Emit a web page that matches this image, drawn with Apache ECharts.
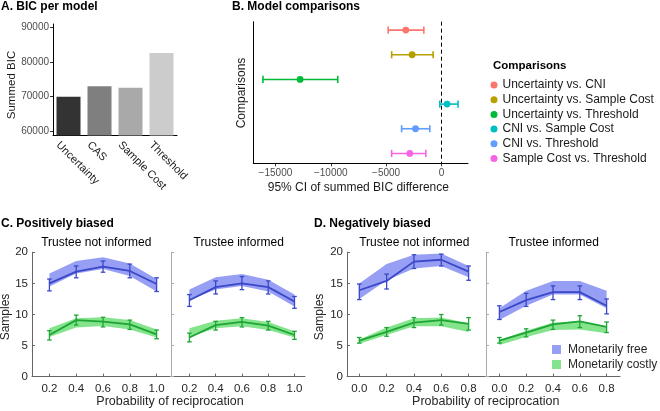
<!DOCTYPE html>
<html><head><meta charset="utf-8">
<script src="https://cdn.jsdelivr.net/npm/echarts@6/dist/echarts.min.js"></script>
<style>html,body{margin:0;padding:0;background:#fff}#c{width:660px;height:411px}</style>
</head><body><div id="c"></div>
<script>
// ---------- Panel A data ----------
const aModels = ['Uncertainty', 'CAS', 'Sample Cost', 'Threshold'];
const aBIC = [69900, 73000, 72500, 82600];
const aTicks = [60000, 70000, 80000, 90000];
const aColors = ['#333333', '#7F7F7F', '#A9A9A9', '#CCCCCC'];

// ---------- Panel B data ----------
const bComparisons = ['Uncertainty vs. CNI', 'Uncertainty vs. Sample Cost', 'Uncertainty vs. Threshold',
  'CNI vs. Sample Cost', 'CNI vs. Threshold', 'Sample Cost vs. Threshold'];
const bMean = [-3220, -2650, -12770, 510, -2340, -2860];
const bLow = [-4810, -4500, -16130, -150, -3600, -4500];
const bHigh = [-1590, -750, -9370, 1500, -1050, -1410];
const bTicks = [-15000, -10000, -5000, 0];
const bColors = ['#F8766D', '#B79F00', '#00BA38', '#00BFC4', '#619CFF', '#F564E3'];

// ---------- Panels C / D data ----------
const probPos = [0.2, 0.4, 0.6, 0.8, 1.0];
const probNeg = [0.0, 0.2, 0.4, 0.6, 0.8];

// C: positively biased, trustee not informed
const cNiFreeMean = [15.0, 16.9, 17.7, 17.0, 14.9];
const cNiFreeErrLo = [13.8, 15.9, 16.8, 15.9, 13.7];
const cNiFreeErrHi = [15.7, 17.8, 18.6, 18.1, 15.9];
const cNiFreeBandLo = [14.5, 16.6, 17.3, 16.2, 13.7];
const cNiFreeBandHi = [16.6, 18.6, 19.2, 18.2, 15.7];
const cNiCostMean = [6.7, 9.1, 8.85, 8.4, 6.8];
const cNiCostErrLo = [5.9, 8.3, 8.0, 7.6, 6.1];
const cNiCostErrHi = [7.4, 9.9, 9.55, 9.1, 7.5];
const cNiCostBandLo = [6.4, 7.9, 8.15, 7.6, 6.3];
const cNiCostBandHi = [7.8, 9.4, 9.55, 9.1, 7.6];
// C: positively biased, trustee informed
const cInFreeMean = [12.3, 14.4, 15.0, 14.4, 12.1];
const cInFreeErrLo = [11.3, 13.3, 14.0, 13.3, 11.0];
const cInFreeErrHi = [13.2, 15.4, 16.1, 15.4, 12.9];
const cInFreeBandLo = [12.3, 14.0, 14.6, 13.7, 11.3];
const cInFreeBandHi = [14.0, 16.0, 16.5, 15.6, 13.2];
const cInCostMean = [6.3, 8.3, 8.8, 8.2, 6.7];
const cInCostErrLo = [5.6, 7.5, 8.0, 7.5, 6.0];
const cInCostErrHi = [7.0, 8.9, 9.5, 8.9, 7.3];
const cInCostBandLo = [6.4, 7.8, 8.1, 7.5, 6.3];
const cInCostBandHi = [7.8, 9.0, 9.4, 8.8, 7.3];
// D: negatively biased, trustee not informed
const dNiFreeMean = [13.9, 15.4, 18.5, 18.8, 16.9];
const dNiFreeErrLo = [12.4, 14.1, 17.4, 17.8, 15.5];
const dNiFreeErrHi = [14.9, 16.5, 19.6, 19.7, 17.8];
const dNiFreeBandLo = [12.5, 15.5, 17.4, 17.8, 16.0];
const dNiFreeBandHi = [15.0, 18.1, 19.6, 19.8, 17.8];
const dNiCostMean = [5.8, 7.2, 8.7, 9.1, 8.5];
const dNiCostErrLo = [5.4, 6.5, 7.9, 8.3, 7.5];
const dNiCostErrHi = [6.3, 7.9, 9.5, 10.0, 9.5];
const dNiCostBandLo = [5.3, 6.7, 8.1, 8.1, 7.2];
const dNiCostBandHi = [6.0, 7.9, 9.4, 9.5, 8.6];
// D: negatively biased, trustee informed
const dInFreeMean = [10.4, 12.3, 13.6, 13.6, 11.4];
const dInFreeErrLo = [9.2, 11.3, 12.4, 12.4, 10.1];
const dInFreeErrHi = [11.4, 13.4, 14.6, 14.6, 12.5];
const dInFreeBandLo = [9.1, 11.4, 13.2, 13.2, 11.0];
const dInFreeBandHi = [11.0, 13.8, 15.4, 15.4, 13.8];
const dInCostMean = [5.8, 7.1, 8.4, 8.9, 8.0];
const dInCostErrLo = [5.4, 6.4, 7.6, 7.9, 7.1];
const dInCostErrHi = [6.3, 7.7, 9.1, 9.8, 8.8];
const dInCostBandLo = [5.1, 6.4, 7.5, 7.6, 7.0];
const dInCostBandHi = [5.9, 7.4, 8.7, 8.9, 8.1];

const legendNames = ['Monetarily free', 'Monetarily costly'];
const subTitles = ['Trustee not informed', 'Trustee informed'];

// ---------- styling ----------
const FONT = '"Liberation Sans", Arial, Helvetica, sans-serif';
const BLUE_LINE = '#3a47c8', BLUE_BAND = '#979ff4';
const GREEN_LINE = '#1ea535', GREEN_BAND = '#84e48c';
const AX = '#666666';

const chart = echarts.init(document.getElementById('c'), null, { renderer: 'canvas' });

const grids = [
  { left: 53, top: 24, width: 124, height: 111.5 },      // A
  { left: 253.3, top: 21.7, width: 214.7, height: 141.6 }, // B
  { left: 32, top: 252.3, width: 138, height: 124.4 },   // C1
  { left: 171, top: 252.3, width: 134, height: 124.4 },  // C2
  { left: 347, top: 252.3, width: 138, height: 124.4 },  // D1
  { left: 486, top: 252.3, width: 134, height: 124.4 }   // D2
];

const xAxes = [], yAxes = [], series = [];

// Panel A
xAxes.push({
  type: 'category', gridIndex: 0, data: aModels,
  axisLine: { onZero: false, lineStyle: { color: '#000', width: 1 } },
  axisTick: { alignWithLabel: true, length: 3, lineStyle: { color: '#333' } },
  axisLabel: { rotate: -45, fontSize: 11, color: '#1a1a1a', margin: -2.7, fontFamily: FONT, interval: 0,
    align: 'left', verticalAlign: 'top', padding: [9.5, 0, 0, 0] }
});
yAxes.push({
  type: 'value', gridIndex: 0, min: 58700, max: 91000,
  axisLine: { show: true, onZero: false, lineStyle: { color: '#000', width: 1 } },
  axisTick: { show: true, customValues: aTicks, length: 3, lineStyle: { color: '#333' } },
  axisLabel: { customValues: aTicks, fontSize: 10, color: '#4d4d4d', margin: 4, fontFamily: FONT,
    formatter: v => String(v) },
  splitLine: { show: false }
});
series.push({
  type: 'bar', xAxisIndex: 0, yAxisIndex: 0, barWidth: 24,
  data: aBIC.map((v, i) => ({ value: v, itemStyle: { color: aColors[i] } }))
});

// Panel B
xAxes.push({
  type: 'value', gridIndex: 1, min: -17000, max: 2400,
  axisLine: { show: true, onZero: false, lineStyle: { color: '#000', width: 1 } },
  axisTick: { show: true, customValues: bTicks, length: 3, lineStyle: { color: '#333' } },
  axisLabel: { customValues: bTicks, fontSize: 10, color: '#4d4d4d', margin: 5, fontFamily: FONT,
    formatter: v => (v < 0 ? '\u2212' + Math.abs(v) : String(v)) },
  splitLine: { show: false }
});
yAxes.push({
  type: 'value', gridIndex: 1, min: 0.66, max: 6.4, inverse: true,
  axisLine: { show: true, onZero: false, lineStyle: { color: '#000', width: 1 } },
  axisTick: { show: false }, axisLabel: { show: false }, splitLine: { show: false }
});
series.push({
  type: 'line', name: 'zeroRef', xAxisIndex: 1, yAxisIndex: 1, data: [],
  markLine: { silent: true, symbol: ['none', 'none'], label: { show: false },
    lineStyle: { type: [4, 3], color: '#000', width: 1 }, data: [{ xAxis: 0 }] }
});
bComparisons.forEach((name, i) => {
  series.push({
    type: 'custom', name: name, xAxisIndex: 1, yAxisIndex: 1,
    itemStyle: { color: bColors[i] },
    data: [[bLow[i], bHigh[i], bMean[i], i + 1]],
    renderItem: (params, api) => {
      const y = api.value(3);
      const p1 = api.coord([api.value(0), y]);
      const p2 = api.coord([api.value(1), y]);
      const pm = api.coord([api.value(2), y]);
      const c = bColors[i], h = 3.6, lw = 1.6;
      return { type: 'group', children: [
        { type: 'line', shape: { x1: p1[0], y1: p1[1], x2: p2[0], y2: p2[1] }, style: { stroke: c, lineWidth: lw } },
        { type: 'line', shape: { x1: p1[0], y1: p1[1] - h, x2: p1[0], y2: p1[1] + h }, style: { stroke: c, lineWidth: lw } },
        { type: 'line', shape: { x1: p2[0], y1: p2[1] - h, x2: p2[0], y2: p2[1] + h }, style: { stroke: c, lineWidth: lw } },
        { type: 'circle', shape: { cx: pm[0], cy: pm[1], r: 3.4 }, style: { fill: c } }
      ] };
    }
  });
});

// Panels C / D
function bandSeries(name, gi, xs, lo, hi, color) {
  return {
    type: 'custom', name: name, xAxisIndex: gi, yAxisIndex: gi, z: 1,
    itemStyle: { color: color },
    data: xs.map((x, i) => [x, lo[i], hi[i]]),
    renderItem: (params, api) => {
      if (params.dataIndex !== 0) return null;
      const top = xs.map((x, i) => api.coord([x, hi[i]]));
      const bot = xs.map((x, i) => api.coord([x, lo[i]])).reverse();
      return { type: 'polygon', shape: { points: top.concat(bot) }, style: { fill: color } };
    }
  };
}
function lineSeries(gi, xs, mean, color) {
  return {
    type: 'line', name: 'line' + gi + color, xAxisIndex: gi, yAxisIndex: gi, z: 3,
    symbol: 'none', showSymbol: false, lineStyle: { color: color, width: 1.8 }, itemStyle: { color: color },
    data: xs.map((x, i) => [x, mean[i]])
  };
}
function errSeries(gi, xs, lo, hi, color) {
  return {
    type: 'custom', name: 'err' + gi + color, xAxisIndex: gi, yAxisIndex: gi, z: 4,
    data: xs.map((x, i) => [x, lo[i], hi[i]]),
    renderItem: (params, api) => {
      const x = api.value(0);
      const a = api.coord([x, api.value(1)]);
      const b = api.coord([x, api.value(2)]);
      const w = 2.3, st = { stroke: color, lineWidth: 1.3 };
      return { type: 'group', children: [
        { type: 'line', shape: { x1: a[0], y1: a[1], x2: b[0], y2: b[1] }, style: st },
        { type: 'line', shape: { x1: a[0] - w, y1: a[1], x2: a[0] + w, y2: a[1] }, style: st },
        { type: 'line', shape: { x1: b[0] - w, y1: b[1], x2: b[0] + w, y2: b[1] }, style: st }
      ] };
    }
  };
}

const panels = [
  { gi: 2, xs: probPos, min: 0.07, max: 1.1, labels: true,
    free: [cNiFreeMean, cNiFreeErrLo, cNiFreeErrHi, cNiFreeBandLo, cNiFreeBandHi],
    cost: [cNiCostMean, cNiCostErrLo, cNiCostErrHi, cNiCostBandLo, cNiCostBandHi] },
  { gi: 3, xs: probPos, min: 0.06, max: 1.08, labels: false,
    free: [cInFreeMean, cInFreeErrLo, cInFreeErrHi, cInFreeBandLo, cInFreeBandHi],
    cost: [cInCostMean, cInCostErrLo, cInCostErrHi, cInCostBandLo, cInCostBandHi] },
  { gi: 4, xs: probNeg, min: -0.09, max: 0.92, labels: true,
    free: [dNiFreeMean, dNiFreeErrLo, dNiFreeErrHi, dNiFreeBandLo, dNiFreeBandHi],
    cost: [dNiCostMean, dNiCostErrLo, dNiCostErrHi, dNiCostBandLo, dNiCostBandHi] },
  { gi: 5, xs: probNeg, min: -0.1, max: 0.9, labels: false,
    free: [dInFreeMean, dInFreeErrLo, dInFreeErrHi, dInFreeBandLo, dInFreeBandHi],
    cost: [dInCostMean, dInCostErrLo, dInCostErrHi, dInCostBandLo, dInCostBandHi] }
];

panels.forEach(p => {
  xAxes.push({
    type: 'value', gridIndex: p.gi, min: p.min, max: p.max,
    axisLine: { show: true, onZero: false, lineStyle: { color: AX, width: 1 } },
    axisTick: { show: true, inside: true, length: 3, customValues: p.xs, lineStyle: { color: AX } },
    axisLabel: { customValues: p.xs, fontSize: 11.5, color: '#262626', margin: 6, fontFamily: FONT,
      formatter: v => v.toFixed(1) },
    splitLine: { show: false }
  });
  yAxes.push({
    type: 'value', gridIndex: p.gi, min: 0, max: 20, interval: 5,
    axisLine: { show: true, onZero: false, lineStyle: { color: p.labels ? AX : '#aaaaaa', width: 1 } },
    axisTick: { show: true, inside: true, length: 3, lineStyle: { color: p.labels ? AX : '#aaaaaa' } },
    axisLabel: { show: p.labels, fontSize: 11.5, color: '#262626', margin: 4, fontFamily: FONT },
    splitLine: { show: false }
  });
  series.push(bandSeries(legendNames[0], p.gi, p.xs, p.free[3], p.free[4], BLUE_BAND));
  series.push(bandSeries(legendNames[1], p.gi, p.xs, p.cost[3], p.cost[4], GREEN_BAND));
  series.push(lineSeries(p.gi, p.xs, p.free[0], BLUE_LINE));
  series.push(lineSeries(p.gi, p.xs, p.cost[0], GREEN_LINE));
  series.push(errSeries(p.gi, p.xs, p.free[1], p.free[2], BLUE_LINE));
  series.push(errSeries(p.gi, p.xs, p.cost[1], p.cost[2], GREEN_LINE));
});

function txt(text, x, y, o) {
  o = o || {};
  return {
    type: 'text', x: x, y: y, rotation: o.rot || 0, silent: true,
    style: { text: text, fontFamily: FONT, fontSize: o.size || 12, fontWeight: o.bold ? 'bold' : 'normal',
      fill: o.color || '#1a1a1a', align: o.align || 'center', verticalAlign: 'middle' }
  };
}

const graphics = [
  txt('A. BIC per model', 1, 7, { bold: true, align: 'left', color: '#000' }),
  txt('B. Model comparisons', 232, 7, { bold: true, align: 'left', color: '#000' }),
  txt('Summed BIC', 12.3, 85, { rot: Math.PI / 2, size: 11.5 }),
  txt('Comparisons', 241.7, 93, { rot: Math.PI / 2, size: 12 }),
  txt('95% CI of summed BIC difference', 358.3, 187.3, { size: 12 }),
  txt('Comparisons', 493, 66, { bold: true, align: 'left', size: 11.5, color: '#000' }),
  txt('C. Positively biased', 1, 224, { bold: true, align: 'left', color: '#000' }),
  txt('D. Negatively biased', 314, 224, { bold: true, align: 'left', color: '#000' }),
  txt(subTitles[0], 96.3, 243, { color: '#000' }),
  txt(subTitles[1], 238.7, 243, { color: '#000' }),
  txt(subTitles[0], 414.3, 243, { color: '#000' }),
  txt(subTitles[1], 553.7, 243, { color: '#000' }),
  txt('Samples', 6, 317, { rot: Math.PI / 2, color: '#262626' }),
  txt('Samples', 320, 317, { rot: Math.PI / 2, color: '#262626' }),
  txt('Probability of reciprocation', 170, 402, { size: 12.5, color: '#262626' }),
  txt('Probability of reciprocation', 485.7, 402, { size: 12.5, color: '#262626' })
];

chart.setOption({
  animation: false,
  backgroundColor: '#fff',
  textStyle: { fontFamily: FONT },
  grid: grids,
  xAxis: xAxes,
  yAxis: yAxes,
  legend: [
    { data: bComparisons.map(n => ({ name: n, icon: 'circle' })), orient: 'vertical',
      left: 490.5, top: 79, itemWidth: 7, itemHeight: 7, itemGap: 2.7, padding: 0, selectedMode: false,
      textStyle: { fontSize: 12, color: '#1a1a1a', lineHeight: 12, fontFamily: FONT } },
    { data: legendNames.map(n => ({ name: n, icon: 'rect' })), orient: 'vertical',
      left: 552, top: 343.5, itemWidth: 9, itemHeight: 9, itemGap: 3, padding: 0, selectedMode: false,
      textStyle: { fontSize: 12, color: '#262626', lineHeight: 12, fontFamily: FONT, padding: [0, 0, 0, 2] } }
  ],
  graphic: graphics,
  series: series
});
</script>
</body></html>
